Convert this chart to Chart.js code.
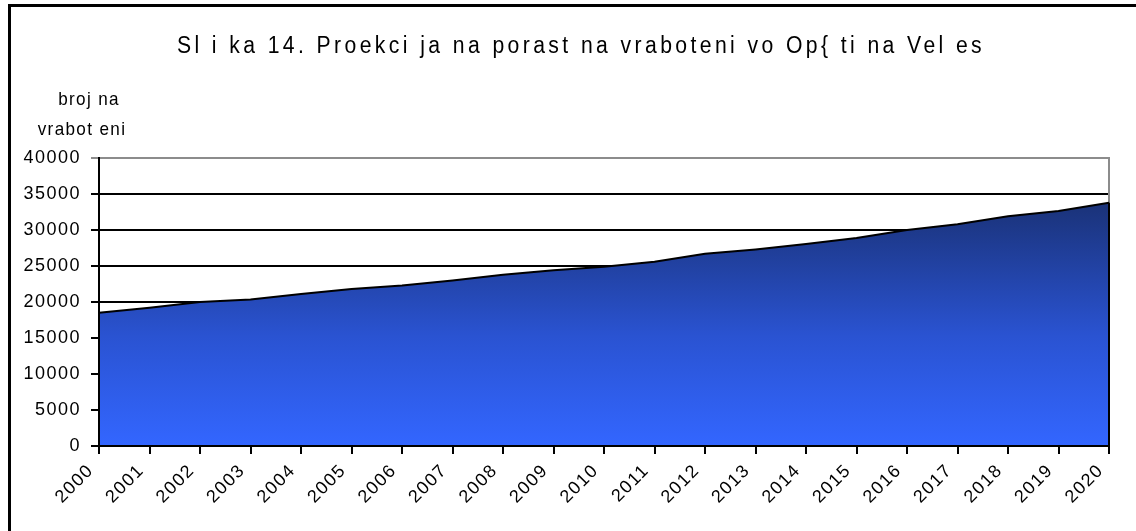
<!DOCTYPE html>
<html>
<head>
<meta charset="utf-8">
<script src="https://cdn.jsdelivr.net/npm/chart.js@4/dist/chart.umd.min.js"></script>
<style>
  html, body { margin: 0; padding: 0; background: #fff; overflow: hidden; }
  #frame { position: absolute; left: 8px; top: 4px; width: 1200px; height: 600px; border: 3px solid #000; }
  #wrap { position: absolute; left: 0; top: 0; width: 1136px; height: 531px; }
</style>
</head>
<body>
<div id="frame"></div>
<div id="wrap"><canvas id="myChart" width="1136" height="531"></canvas></div>
<script>
var years = ['2000','2001','2002','2003','2004','2005','2006','2007','2008','2009','2010',
             '2011','2012','2013','2014','2015','2016','2017','2018','2019','2020'];
var employed = [18500, 19200, 20000, 20350, 21100, 21800, 22300, 23000, 23800, 24400, 24900,
                25600, 26700, 27300, 28050, 28900, 30000, 30800, 31900, 32650, 33800];
var yTicks = [0, 5000, 10000, 15000, 20000, 25000, 30000, 35000, 40000];
var chartTitle = 'Sl i ka 14. Proekci ja na porast na vraboteni vo Op{ ti na Vel es';
var axisTitle = ['broj na', 'vrabot eni'];

var FONT = '"Liberation Sans", Arial, sans-serif';

document.addEventListener("DOMContentLoaded", function() {
  var ctx = document.getElementById('myChart').getContext('2d');

  // Excel style letter spacing for the tick labels
  var spacing = {
    id: 'spacing',
    beforeUpdate: function(chart) { chart.ctx.letterSpacing = '1.5px'; },
    beforeDraw: function(chart) { chart.ctx.letterSpacing = '1.5px'; }
  };

  // narrow, spaced text like the original
  function narrowText(c, txt, x, y, size, squeeze, gap) {
    c.save();
    c.font = size + 'px ' + FONT;
    c.letterSpacing = gap + 'px';
    c.textAlign = 'center';
    c.textBaseline = 'middle';
    c.translate(x, y);
    c.scale(squeeze, 1);
    c.fillText(txt, 0, 0);
    c.restore();
  }

  // title, axis title, gray plot border, right edge of area
  var extras = {
    id: 'extras',
    beforeDatasetsDraw: function(chart) {
      var a = chart.chartArea, c = chart.ctx;
      c.save();
      c.strokeStyle = '#8c8c8c';
      c.lineWidth = 2;
      c.beginPath();
      c.moveTo(a.left, a.top);
      c.lineTo(a.right, a.top);
      c.lineTo(a.right, a.bottom);
      c.stroke();
      c.restore();
    },
    afterDatasetsDraw: function(chart) {
      var a = chart.chartArea, c = chart.ctx;
      var x = chart.scales.x.getPixelForValue(years.length - 1);
      var y = chart.scales.y.getPixelForValue(employed[employed.length - 1]);
      c.save();
      c.strokeStyle = '#000';
      c.lineWidth = 2;
      c.beginPath();
      c.moveTo(x, y);
      c.lineTo(x, a.bottom);
      c.stroke();
      c.restore();
    },
    afterDraw: function(chart) {
      var c = chart.ctx;
      c.fillStyle = '#000';
      narrowText(c, chartTitle, 581, 47, 23, 0.92, 3.7);
      narrowText(c, axisTitle[0], 89, 100, 19, 0.9, 1.5);
      narrowText(c, axisTitle[1], 82, 130, 19, 0.9, 1.5);
    }
  };

  var data = {
    labels: years,
    datasets: [{
      label: 'vraboteni',
      data: employed,
      fill: 'origin',
      borderColor: '#000',
      borderWidth: 2,
      tension: 0,
      pointRadius: 0,
      backgroundColor: function(context) {
        var chart = context.chart;
        var a = chart.chartArea;
        if (!a) return '#3366ff';
        var top = chart.scales.y.getPixelForValue(Math.max.apply(null, employed));
        var g = chart.ctx.createLinearGradient(0, top, 0, a.bottom);
        g.addColorStop(0, '#1a3278');
        g.addColorStop(0.55, '#2a53d2');
        g.addColorStop(1, '#3366ff');
        return g;
      }
    }]
  };

  var config = {
    type: 'line',
    data: data,
    plugins: [spacing, extras],
    options: {
      responsive: false,
      animation: false,
      events: [],
      layout: { padding: { left: 0, right: 27, top: 158, bottom: 0 } },
      plugins: {
        legend: { display: false },
        title: { display: false },
        tooltip: { enabled: false }
      },
      scales: {
        x: {
          offset: false,
          grid: { drawOnChartArea: false, color: '#000', lineWidth: 2, tickLength: 8 },
          border: { color: '#000', width: 2, z: 1 },
          ticks: {
            autoSkip: false, minRotation: 45, maxRotation: 45,
            color: '#000', font: { family: FONT, size: 18 },
            padding: 6, labelOffset: -8
          },
          afterFit: function(scale) { scale.height = 85; }
        },
        y: {
          min: 0, max: 40000,
          afterBuildTicks: function(scale) {
            scale.ticks = yTicks.map(function(v) { return { value: v }; });
          },
          grid: {
            color: function(c) { return c.tick && c.tick.value === 40000 ? '#8c8c8c' : '#000'; },
            lineWidth: 2, tickLength: 8
          },
          border: { color: '#000', width: 2, z: 1 },
          ticks: {
            color: '#000', font: { family: FONT, size: 18 }, padding: 10,
            callback: function(v) { return String(v); }
          },
          afterFit: function(scale) { scale.width = 99; }
        }
      }
    }
  };
  var myChart = new Chart(ctx, config);
});
</script>
</body>
</html>
